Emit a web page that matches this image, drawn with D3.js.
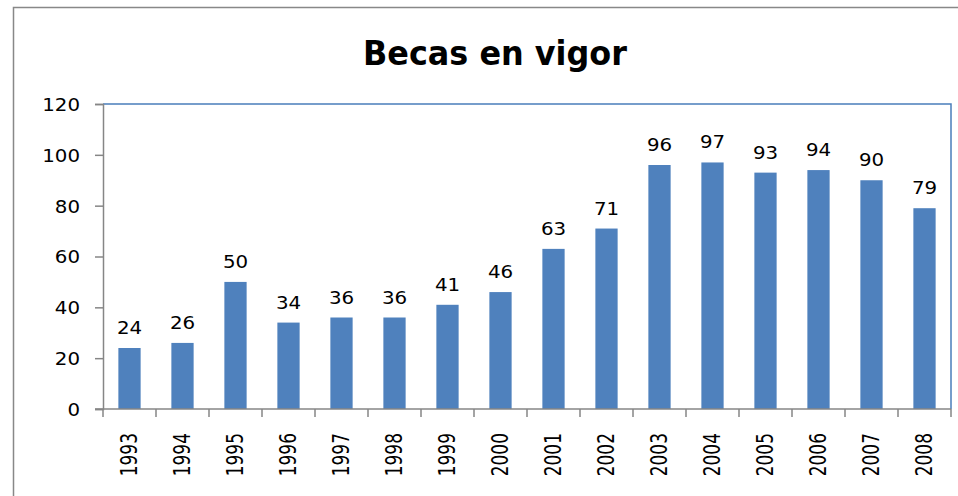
<!DOCTYPE html>
<html>
<head>
<meta charset="utf-8">
<script src="https://cdn.jsdelivr.net/npm/d3@7"></script>
<style>
  body { margin: 0; background: #fff; }
  text { font-family: "DejaVu Sans", Verdana, sans-serif; fill: #000; }
</style>
</head>
<body>
<svg id="chart" width="958" height="496"></svg>
<script>
// data
const years = ["1993", "1994", "1995", "1996", "1997", "1998", "1999", "2000",
               "2001", "2002", "2003", "2004", "2005", "2006", "2007", "2008"];
const becas = [24, 26, 50, 34, 36, 36, 41, 46, 63, 71, 96, 97, 93, 94, 90, 79];
const yTicks = [0, 20, 40, 60, 80, 100, 120];
const title = "Becas en vigor";

const svg = d3.select("#chart");
const plotLeft = 103, plotRight = 951, plotTop = 104, plotBottom = 409;
const axisColor = "#868686";

// outer frame (runs off the right and bottom edges)
svg.append("path")
    .attr("d", "M13.5,500 V7.5 H962")
    .attr("fill", "none")
    .attr("stroke", "#888")
    .attr("stroke-width", 1.5);

const x = d3.scaleBand().domain(years).range([plotLeft, plotRight])
    .paddingInner(0.58).paddingOuter(0.29);
const y = d3.scaleLinear().domain([0, 120]).range([plotBottom, plotTop]);

// title
svg.append("text")
    .attr("x", 495).attr("y", 65)
    .attr("text-anchor", "middle")
    .attr("font-family", "'Open Sans', 'Noto Sans', sans-serif")
    .attr("font-weight", "bold")
    .attr("font-size", 33)
    .attr("textLength", 264)
    .attr("lengthAdjust", "spacingAndGlyphs")
    .text(title);

// bars
svg.append("g").selectAll("rect")
    .data(becas)
    .join("rect")
    .attr("x", (d, i) => x(years[i]))
    .attr("width", x.bandwidth())
    .attr("y", d => y(d))
    .attr("height", d => y(0) - y(d))
    .attr("fill", "#4f81bd");

// plot border lines: top & right in blue
svg.append("path")
    .attr("d", `M${plotLeft},${plotTop} H${plotRight} V${plotBottom}`)
    .attr("fill", "none")
    .attr("stroke", "#4a7ebb")
    .attr("stroke-width", 1.5);

// y axis
const yAxis = svg.append("g")
    .attr("transform", `translate(${plotLeft},0)`)
    .call(d3.axisLeft(y).tickValues(yTicks).tickSize(8).tickPadding(0).tickFormat(d3.format("d")));
yAxis.select(".domain").attr("stroke", axisColor).attr("stroke-width", 1.5);
yAxis.selectAll(".tick line").attr("stroke", axisColor).attr("stroke-width", 1.5);
yAxis.selectAll(".tick text")
    .attr("font-size", 18)
    .attr("x", 0)
    .attr("dy", "0.36em")
    .attr("transform", "translate(-23,0) scale(1.1,1)");

// x axis: ticks at category boundaries
const boundaries = years.map((d, i) => plotLeft + i * (plotRight - plotLeft) / years.length).concat([plotRight]);
svg.append("line")
    .attr("x1", plotLeft - 8).attr("x2", plotRight)
    .attr("y1", plotBottom).attr("y2", plotBottom)
    .attr("stroke", axisColor).attr("stroke-width", 1.5);
svg.append("g").selectAll("line")
    .data(boundaries)
    .join("line")
    .attr("x1", d => d).attr("x2", d => d)
    .attr("y1", plotBottom).attr("y2", plotBottom + 8)
    .attr("stroke", axisColor).attr("stroke-width", 1.5);

// year labels, rotated
svg.append("g").selectAll("text")
    .data(years)
    .join("text")
    .attr("transform", d => `translate(${x(d) + x.bandwidth() / 2},433) scale(1.3,1) rotate(-90)`)
    .attr("text-anchor", "end")
    .attr("dy", "0.36em")
    .attr("font-size", 17)
    .text(d => d);

// value labels
svg.append("g").selectAll("text")
    .data(becas)
    .join("text")
    .attr("transform", (d, i) => `translate(${x(years[i]) + x.bandwidth() / 2},${y(d) - 14}) scale(1.1,1)`)
    .attr("text-anchor", "middle")
    .attr("font-size", 18)
    .text(d => d);
</script>
</body>
</html>
